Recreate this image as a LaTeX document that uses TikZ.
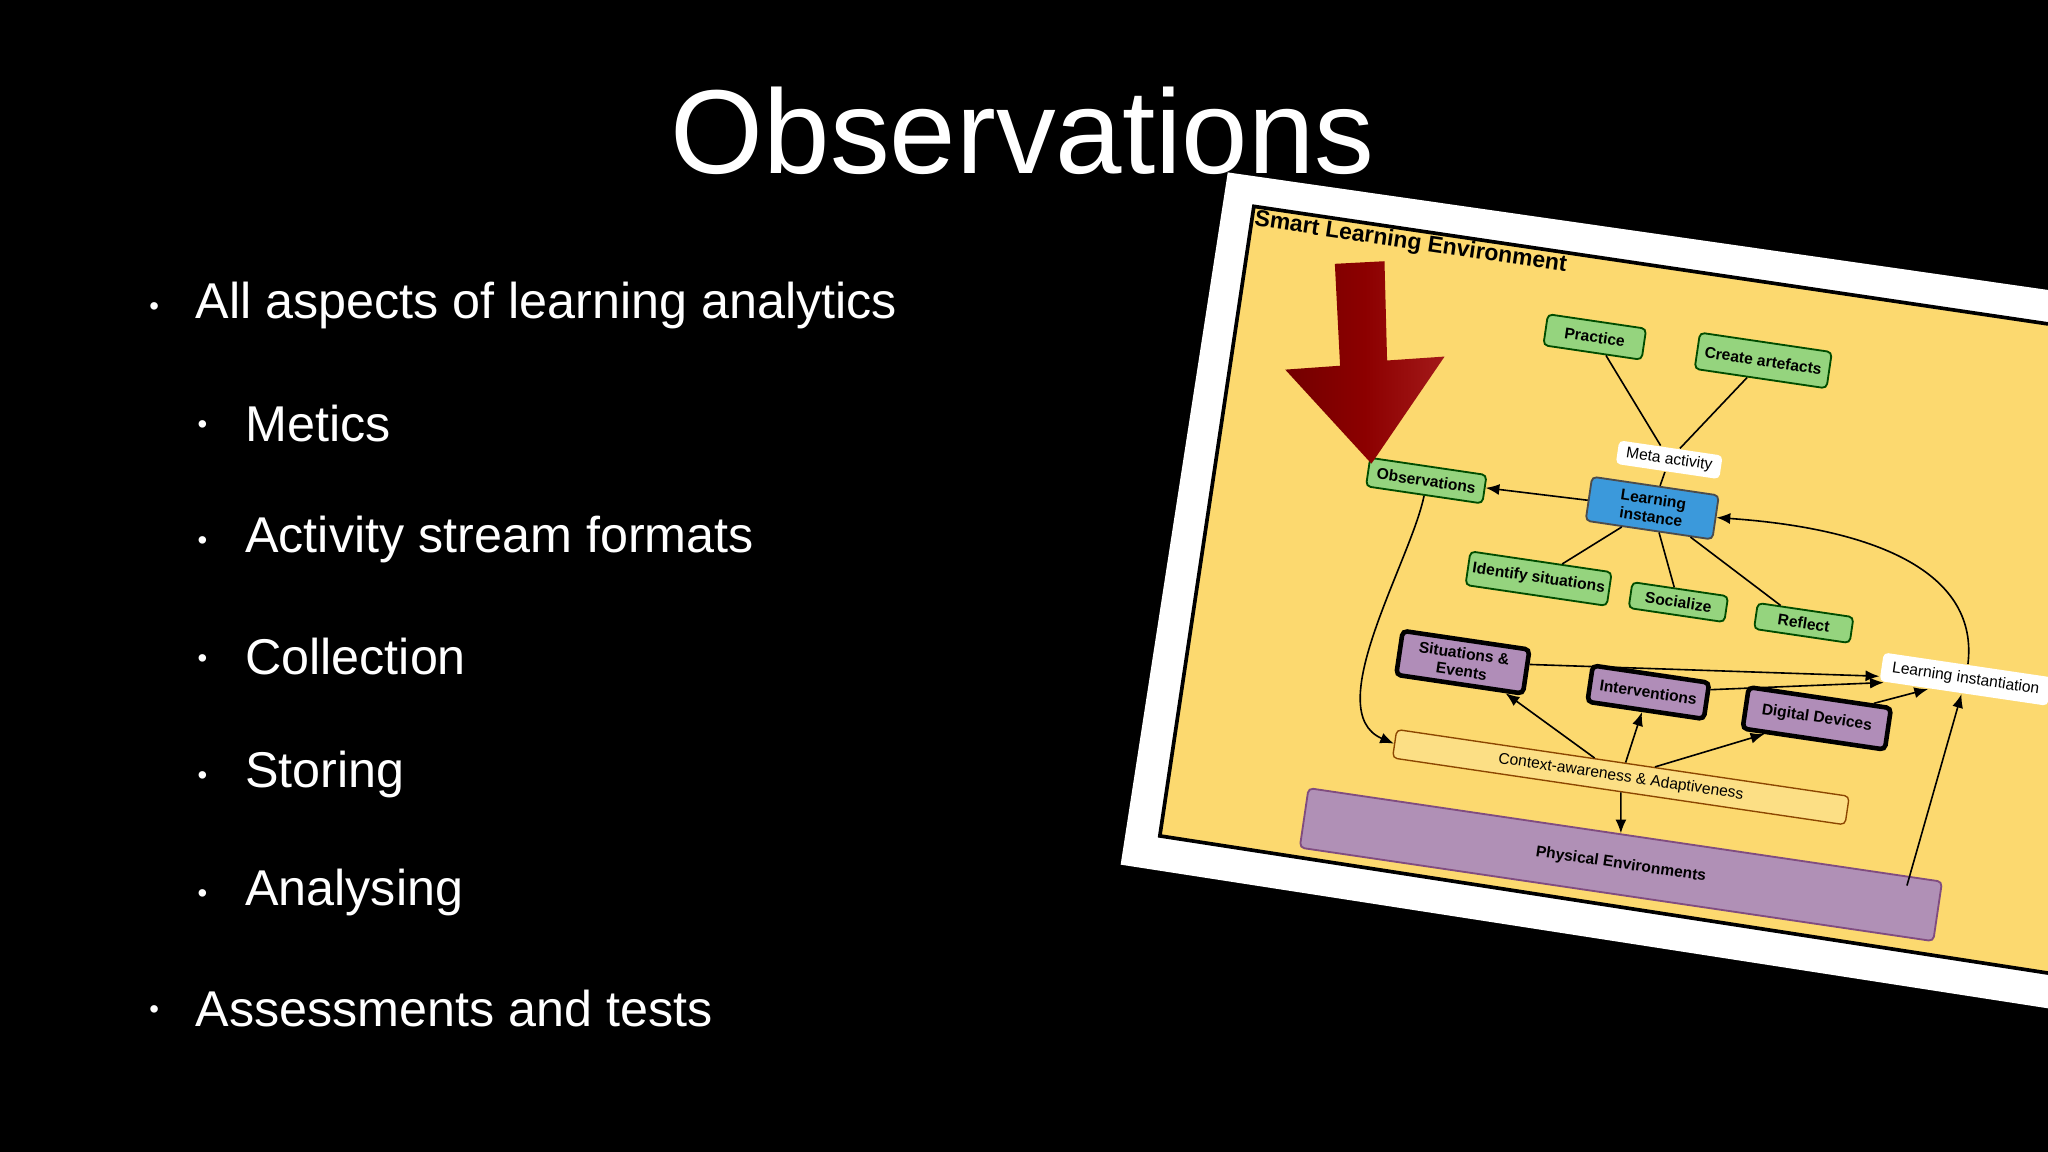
\documentclass[tikz,border=0pt]{standalone}
\usepackage{fontspec}
\setmainfont{Liberation Sans}
\usetikzlibrary{arrows.meta,shadings}
\definecolor{gr}{HTML}{95D47E}
\definecolor{pu}{HTML}{B08DB8}
\definecolor{pe}{HTML}{B090B6}
\definecolor{yl}{HTML}{FCD96F}
\begin{document}
\begin{tikzpicture}[x=0.01cm,y=-0.01cm,
  bx/.style={draw=black!70,rounded corners=1pt,rotate=-8.4,font=\fontsize{3.4pt}{3.9pt}\selectfont\bfseries,align=center,inner sep=1pt},
  grn/.style={bx,fill=gr,draw=green!30!black,line width=0.4pt},
  prp/.style={bx,fill=pu,line width=1pt,draw=black},
  wht/.style={bx,fill=white,draw=none,font=\fontsize{3.4pt}{3.9pt}\selectfont},
  ln/.style={line width=0.35pt},
  ar/.style={ln,-{Latex[length=3pt,width=2.4pt]}}]
\fill[black] (0,0) rectangle (1568,882);
\useasboundingbox (0,0) rectangle (1568,882);
\node[white,font=\fontsize{26pt}{30pt}\selectfont] (title) at (783,100) {Observations};
\begin{scope}[white,font=\fontsize{10.95pt}{12pt}\selectfont]
\node[anchor=west,inner sep=0] (b1) at (149,234) {All aspects of learning analytics};
\node[font=\fontsize{6pt}{7pt}\selectfont] (d1) at (118,237) {\textbullet};
\foreach \t/\y [count=\i] in {Metics/324,Activity stream formats/413,Collection/503,Storing/593,Analysing/683}{
  \node[anchor=west,inner sep=0] (s\i) at (187,\y) {\t};
  \node[font=\fontsize{6pt}{7pt}\selectfont] (e\i) at (155,\y+3) {\textbullet};}
\node[anchor=west,inner sep=0] (b2) at (149,772) {Assessments and tests};
\node[font=\fontsize{6pt}{7pt}\selectfont] (d2) at (118,775) {\textbullet};
\end{scope}
% card
\fill[white] (940,132) -- (1568,222) -- (1568,772) -- (858,662) -- cycle;
\fill[yl] (960,158) -- (1568,248) -- (1568,745) -- (888,640) -- cycle;
\draw[line width=0.8pt] (1568,248) -- (960,158) -- (888,640) -- (1568,745);
\node[rotate=-8.4,font=\fontsize{5pt}{6pt}\selectfont\bfseries] (slt) at (1080,186) {Smart Learning Environment};
% nodes
\node[grn,minimum width=0.76cm,minimum height=0.24cm] (pr) at (1221,258) {Practice};
\node[grn,minimum width=1.02cm,minimum height=0.28cm] (ca) at (1350,276) {Create artefacts};
\node[wht,minimum width=0.8cm,minimum height=0.18cm] (ma) at (1278,352) {Meta activity};
\node[bx,fill=cyan!70!blue!80!white,minimum width=0.98cm,minimum height=0.34cm] (li) at (1265,389) {Learning\\instance};
\node[grn,minimum width=0.9cm,minimum height=0.22cm] (ob) at (1092,368) {Observations};
\node[grn,minimum width=1.08cm,minimum height=0.26cm] (is) at (1178,443) {Identify situations};
\node[grn,minimum width=0.74cm,minimum height=0.2cm] (so) at (1285,461) {Socialize};
\node[grn,minimum width=0.74cm,minimum height=0.2cm] (re) at (1381,477) {Reflect};
\node[prp,minimum width=0.98cm,minimum height=0.34cm] (se) at (1120,507) {Situations \&\\Events};
\node[prp,minimum width=0.9cm,minimum height=0.28cm] (iv) at (1262,530) {Interventions};
\node[prp,minimum width=1.1cm,minimum height=0.32cm] (dd) at (1391,550) {Digital Devices};
\node[wht,minimum width=1.3cm,minimum height=0.22cm] (lin) at (1505,520) {Learning instantiation};
\node[bx,fill=yl!85!white,draw=orange!55!black,line width=0.3pt,font=\fontsize{3.4pt}{3.9pt}\selectfont,minimum width=3.5cm,minimum height=0.22cm] (cx) at (1241,595) {Context-awareness \& Adaptiveness};
\node[bx,fill=pe,draw=violet!40!gray,minimum width=4.9cm,minimum height=0.46cm] (pn) at (1241,662) {Physical Environments};
% red arrow
\shade[left color=red!45!black,right color=red!60!black!90,middle color=red!55!black]
 (1022,202) -- (1060,200) -- (1062,276) -- (1106,273) -- (1050,355) -- (984,283) -- (1026,280) -- cycle;
% edges
\draw[ln] (pr) -- (ma);
\draw[ln] (ca) -- (ma);
\draw[ln] (ma) -- (li);
\draw[ar] (li) -- (ob);
\draw[ln] (li) -- (is);
\draw[ln] (li) -- (so);
\draw[ln] (li) -- (re);
\draw[ar] (ob.south) .. controls (1080,430) and (1010,545) .. (cx.west);
\draw[ar] (lin.north) .. controls (1515,440) and (1440,405) .. (li.east);
\draw[ar] (se) -- (lin);
\draw[ar] (iv) -- (lin);
\draw[ar] (dd) -- (lin);
\draw[ar] (cx) -- (se);
\draw[ar] (cx) -- (iv);
\draw[ar] (cx) -- (dd);
\draw[ar] (cx) -- (pn);
\coordinate (pq) at (1460,678);
\draw[ar] (pq) -- (lin);
\end{tikzpicture}
\end{document}
